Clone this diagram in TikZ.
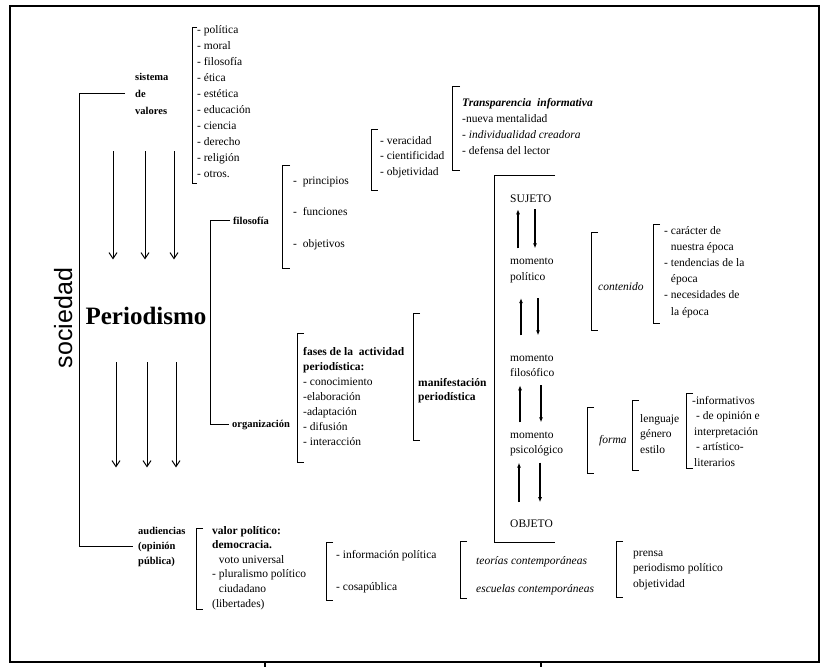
\documentclass[tikz,border=0pt]{standalone}
\usepackage{fontspec}
\setmainfont{Liberation Serif}
\newfontfamily\sansf{Liberation Sans}
\usetikzlibrary{arrows.meta,positioning}

\tikzset{
  lst/.style={font=\fontsize{11.5}{#1}\selectfont, align=left, inner sep=0pt, anchor=base west},
  lst/.default=16,
  lbl/.style={font=\fontsize{10.5}{#1}\selectfont\bfseries, align=left, inner sep=0pt, anchor=base west},
  lbl/.default=15,
  brk/.style={line width=1pt},
  frame/.style={line width=1.4pt},
  flow/.style={-{Straight Barb[length=6pt,width=8pt]}, line width=1pt},
  mv/.style={->, line width=1.2pt},
}
% corchete: [arm]{x}{top}{bottom}
\newcommand{\corchete}[4][7]{\draw[brk] (#2,#3) ++(#1,0) -| (#2,#4) -- ++(#1,0);}

\begin{document}
\begin{tikzpicture}[x=1pt,y=-1pt,>={Latex[length=5pt,width=4pt]}]
\useasboundingbox (0,0) rectangle (826,667);
\draw[frame] (10,6) rectangle (819,662);
\draw[frame] (265,662) -- (265,667);
\draw[frame] (541,662) -- (541,667);

% sociedad / periodismo
\node[font=\sansf\fontsize{25}{25}\selectfont, rotate=90, anchor=base, inner sep=0pt] (soc) at (72,318) {sociedad};
\node[font=\fontsize{25}{25}\selectfont\bfseries, anchor=base, inner sep=0pt] (per) at (146,324) {Periodismo};
\foreach \dx in {-33,-1,28}
  \draw[flow] ([xshift=\dx pt,yshift=155pt]per.north) -- ([xshift=\dx pt,yshift=47pt]per.north);
\foreach \dx in {-30,1,30}
  \draw[flow] ([xshift=\dx pt,yshift=-38pt]per.south) -- ([xshift=\dx pt,yshift=-143pt]per.south);

% sistema de valores (base = last line)
\node[lbl=17] (sis) at (135,114) {sistema\\de\\valores};
\node[lst] (val) at (197,177) {- política\\- moral\\- filosofía\\- ética\\- estética\\- educación\\- ciencia\\- derecho\\- religión\\- otros.};
\corchete[5]{192}{27}{183}

% audiencias
\node[lbl] (aud) at (138,564) {audiencias\\(opinión\\pública)};
\draw[brk] ([xshift=-10pt]sis.west) -- ++(-46,0) |- ([xshift=-5pt]aud.west);

% filosofia / organizacion
\node[lbl] (fil) at (233,224) {filosofía};
\node[lbl] (org) at (232,427) {organización};
\draw[brk] ([xshift=-3pt]fil.west) -- ++(-20,0) |- ([xshift=-3pt]org.west);

\node[lst=31.5] (pri) at (293,247) {- \ principios\\- \ funciones\\- \ objetivos};
\corchete[8]{282}{165}{268}
\node[lst=15.5] (ver) at (380,175) {- veracidad\\- cientificidad\\- objetividad};
\corchete{371}{129}{190}
\node[lst=16] (tra) at (462,154) {\textbf{\textit{Transparencia\ \ informativa}}\\-nueva mentalidad\\\textit{- individualidad creadora}\\- defensa del lector};
\corchete[8]{452}{86}{170}

\node[lst=15] (fas) at (303,445) {\textbf{fases de la\ \ actividad}\\\textbf{periodística:}\\- conocimiento\\-elaboración\\-adaptación\\- difusión\\- interacción};
\corchete{297}{333}{462}
\node[lst=14] (man) at (418,400) {\textbf{manifestación}\\\textbf{periodística}};
\corchete{413}{313}{440}

% momentos
\node[lst] (su) at (510,202) {SUJETO};
\node[lst=16.5] (mpol) at (510,280.5) {momento\\político};
\node[lst=15] (mfil) at (510,376) {momento\\filosófico};
\node[lst=15] (mpsi) at (510,453) {momento\\psicológico};
\node[lst] (ob) at (510,527) {OBJETO};
\corchete[61]{494}{175}{542}
\draw[mv, shorten <=9pt, shorten >=7pt] ([xshift=8pt]mpol.north west) -- ([xshift=8pt]su.south west);
\draw[mv, shorten <=7pt, shorten >=9pt] ([xshift=25pt]su.south west) -- ([xshift=25pt]mpol.north west);
\draw[mv, shorten <=19pt, shorten >=15pt] ([xshift=11pt]mfil.north west) -- ([xshift=11pt]mpol.south west);
\draw[mv, shorten <=15pt, shorten >=19pt] ([xshift=28pt]mpol.south west) -- ([xshift=28pt]mfil.north west);
\draw[mv, shorten <=9pt, shorten >=9pt] ([xshift=10pt]mpsi.north west) -- ([xshift=10pt]mfil.south west);
\draw[mv, shorten <=9pt, shorten >=9pt] ([xshift=31pt]mfil.south west) -- ([xshift=31pt]mpsi.north west);
\draw[mv, shorten <=17pt, shorten >=7pt] ([xshift=9pt]ob.north west) -- ([xshift=9pt]mpsi.south west);
\draw[mv, shorten <=7pt, shorten >=17pt] ([xshift=30pt]mpsi.south west) -- ([xshift=30pt]ob.north west);

% contenido / forma
\node[lst] (cont) at (598,290) {\textit{contenido}};
\corchete{591}{232}{330}
\node[lst=16.2] (car) at (664,315) {- carácter de\\\hphantom{- }nuestra época\\- tendencias de la\\\hphantom{- }época\\- necesidades de\\\hphantom{- }la época};
\corchete{653}{224}{323}
\node[lst] (for) at (599,443) {\textit{forma}};
\corchete{587}{407}{473}
\node[lst=15.5] (len) at (640,453) {lenguaje\\género\\estilo};
\corchete{632}{400}{470}
\node[lst=15.5] (inf) at (692,466) {-informativos\\\hspace{4pt}- de opinión e\\\hspace{2pt}interpretación\\\hspace{4pt}- artístico-\\\hspace{2pt}literarios};
\corchete{686}{393}{468}

% valor politico
\node[lst=14.6] (vp) at (212,607) {\textbf{valor político:}\\\textbf{democracia.}\\\hphantom{- }voto universal\\- pluralismo político\\\hphantom{- }ciudadano\\(libertades)};
\corchete{196}{528}{609}
\node[lst=32] (ip) at (336,590) {- información política\\- cosapública};
\corchete{326}{542}{600}
\node[lst=28] (teo) at (476,592) {\textit{teorías contemporáneas}\\\textit{escuelas contemporáneas}};
\corchete{460}{541}{598}
\node[lst=15.5] (pre) at (633,587) {prensa\\periodismo político\\objetividad};
\corchete{616}{541}{597}
\end{tikzpicture}
\end{document}
